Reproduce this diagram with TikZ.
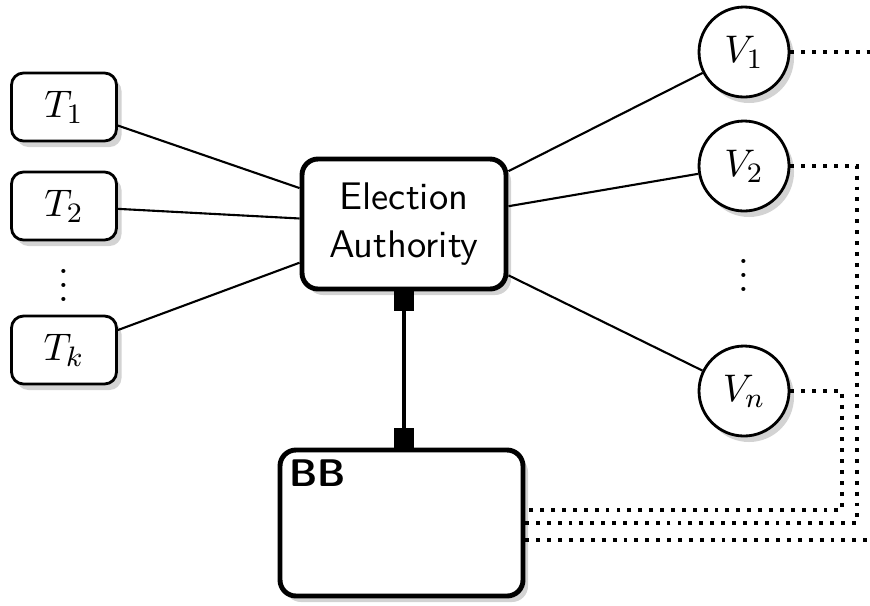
\documentclass[tikz,border=0pt,11pt]{standalone}
\usepackage{amsmath}
\usepackage{tikz}
\usetikzlibrary{arrows.meta,shadows}

\begin{document}
\begin{tikzpicture}[thick,
    shade/.style={drop shadow={opacity=0.35, shadow xshift=0.5mm, shadow yshift=-0.6mm}},
    tbox/.style={draw, fill=white, rounded corners=1.2mm, minimum width=1.05cm,
                 minimum height=0.68cm, shade},
    vnode/.style={draw, circle, fill=white, minimum size=0.9cm, inner sep=0pt, shade},
    mainbox/.style={draw, fill=white, line width=1.4pt, rounded corners=1.6mm, shade},
    link/.style={semithick},
    feed/.style={line width=1.1pt, dotted}]
    \useasboundingbox (0, 0) rectangle (8.70, 6.05);

    % tellers
    \node[tbox] (t1) at (0.64, 4.98) {$T_1$};
    \node[tbox] (t2) at (0.64, 3.99) {$T_2$};
    \node[] (tdots) at (0.64, 3.30) {$\vdots$};
    \node[tbox] (tk) at (0.64, 2.55) {$T_k$};

    % authority
    \node[mainbox, minimum width=2.04cm, minimum height=1.30cm, align=center,
          font=\sffamily] (ea) at (4.04, 3.81) {Election\\Authority};

    % voters
    \node[vnode] (v1) at (7.44, 5.53) {$V_1$};
    \node[vnode] (v2) at (7.44, 4.39) {$V_2$};
    \node[] (vdots) at (7.44, 3.40) {$\vdots$};
    \node[vnode] (vn) at (7.44, 2.14) {$V_n$};

    % bulletin board
    \node[mainbox, minimum width=2.43cm, minimum height=1.46cm] (bb) at (4.015, 0.82) {};
    \node[font=\sffamily\bfseries, anchor=north west, inner sep=3pt] (bblabel)
      at (bb.north west) {BB};

    % links
    \foreach \t in {t1, t2, tk}
      \draw[link] (\t) -- (ea);
    \foreach \v in {v1, v2, vn}
      \draw[link] (ea) -- (\v);

    \draw[line width=1pt, {Square[length=2mm, width=2mm]}-{Square[length=2mm, width=2mm]}]
      (ea.south) -- (ea.south |- bb.north);

    % dotted feeds
    \coordinate (c1) at (8.70, 5.53);
    \coordinate (c2) at (8.57, 0.82);
    \coordinate (cn) at (8.42, 0.95);
    \coordinate (c3) at (8.70, 0.65);
    \draw[feed] (v1.east) -- (c1);
    \draw[feed] (v2.east) -| (c2) -- (bb.east |- c2);
    \draw[feed] (vn.east) -| (cn) -- (bb.east |- cn);
    \draw[feed] (bb.east |- c3) -- (c3);
  \end{tikzpicture}
\end{document}
